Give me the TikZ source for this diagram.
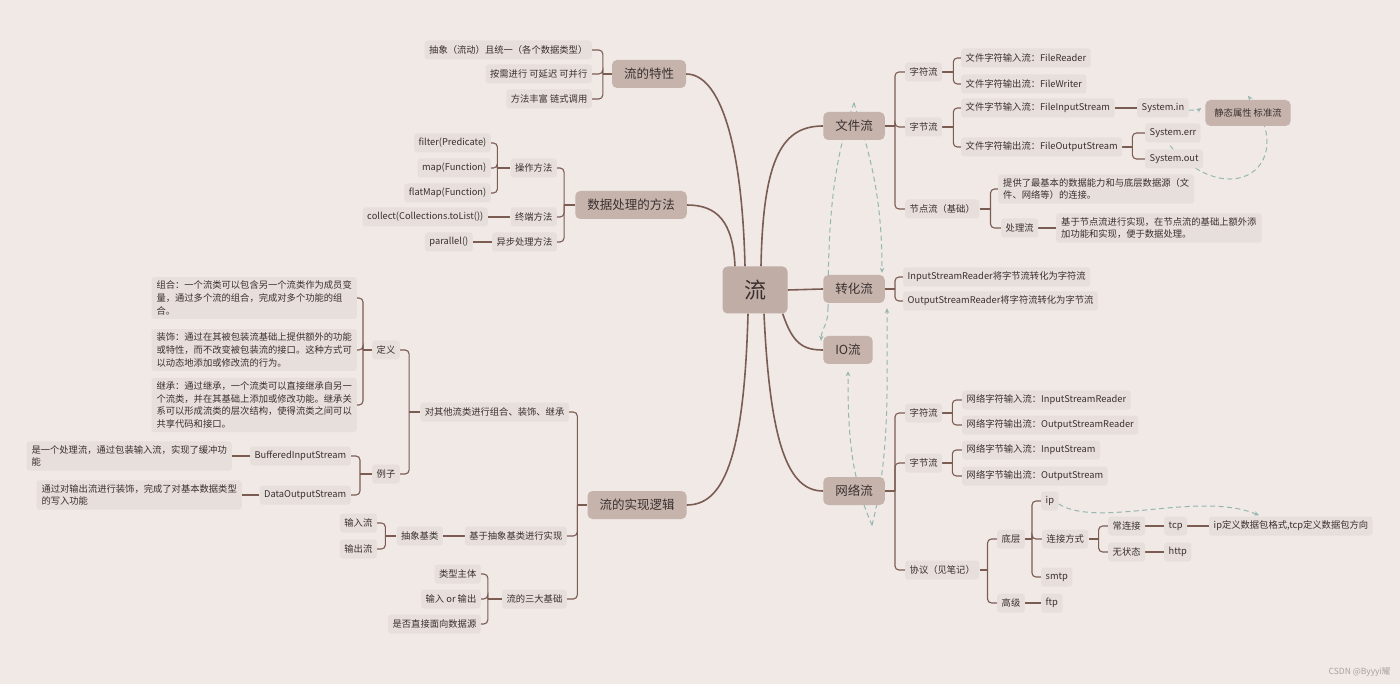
\documentclass[tikz,border=0pt]{standalone}
\usepackage{fontspec}
\setmainfont{Noto Sans CJK SC}
\usetikzlibrary{arrows.meta}
\definecolor{bgc}{RGB}{240,233,230}
\definecolor{nfill}{RGB}{231,223,219}
\definecolor{mfill}{RGB}{197,179,172}
\definecolor{cfill}{RGB}{192,173,166}
\definecolor{linec}{RGB}{122,92,83}
\definecolor{relc}{RGB}{150,182,176}
\definecolor{txtc}{RGB}{58,48,47}
\definecolor{wmc}{RGB}{170,162,160}
\pgfdeclarelayer{bg}
\pgfsetlayers{bg,main}
\newcommand\fsS{\fontsize{9.3}{12.6}\selectfont}
\newcommand\fsM{\fontsize{12.5}{15}\selectfont}
\newcommand\fsL{\fontsize{22}{26}\selectfont}
\newcommand\bracketL[3]{%
  \draw[brl] (#1.west) -- ++(-#2,0);
  \foreach \ch in {#3}{\draw[brl,rounded corners=4pt] ([xshift=-#2pt]#1.west) |- (\ch.east);}}
\newcommand\bracketR[3]{%
  \draw[brl] (#1.east) -- ++(#2,0);
  \foreach \ch in {#3}{\draw[brl,rounded corners=4pt] ([xshift=#2pt]#1.east) |- (\ch.west);}}
\begin{document}
\begin{tikzpicture}[x=1pt,y=-1pt,
 sn/.style={fill=nfill, rounded corners=3pt, inner xsep=4.5pt, inner ysep=2pt, minimum height=19pt, font=\fsS, text=txtc},
 pn/.style={sn, align=left, inner xsep=5pt, inner ysep=4pt},
 mn/.style={fill=mfill, rounded corners=5pt, inner xsep=12pt, minimum height=28pt, font=\fsM, text=txtc},
 cn/.style={fill=cfill, rounded corners=5pt, minimum width=65pt, minimum height=47pt, font=\fsL, text=txtc},
 brl/.style={draw=linec, line width=1.1pt},
 trunk/.style={draw=linec, line width=1.6pt},
 rel/.style={draw=relc, line width=1pt, dash pattern=on 5pt off 3.5pt, -{Stealth[length=5pt,width=4.5pt]}},
 reln/.style={draw=relc, line width=1pt, dash pattern=on 5pt off 3.5pt},
]
\begin{pgfonlayer}{bg}
\fill[bgc] (0,0) rectangle (1400,684);
\end{pgfonlayer}
\useasboundingbox (0,0) rectangle (1400,684);

% central
\node[cn] (c) at (755,290) {流};

% ---------- left: 流的特性
\node[mn] (m1) at (649,74) {流的特性};
\node[sn,anchor=east] (a1) at (592,50) {抽象（流动）且统一（各个数据类型）};
\node[sn,anchor=east] (a2) at (592,74) {按需进行 可延迟 可并行};
\node[sn,anchor=east] (a3) at (592,99) {方法丰富 链式调用};

% ---------- 数据处理的方法
\node[mn] (m2) at (631,205) {数据处理的方法};
\node[sn,anchor=east] (b1) at (557,168) {操作方法};
\node[sn,anchor=east] (b2) at (557,217) {终端方法};
\node[sn,anchor=east] (b3) at (557,242) {异步处理方法};
\node[sn,anchor=east] (b11) at (491,143) {filter(Predicate)};
\node[sn,anchor=east] (b12) at (491,168) {map(Function)};
\node[sn,anchor=east] (b13) at (491,193) {flatMap(Function)};
\node[sn,anchor=east] (b21) at (488,217) {collect(Collections.toList())};
\node[sn,anchor=east] (b31) at (473,242) {parallel()};

% ---------- 流的实现逻辑
\node[mn] (m3) at (637,505) {流的实现逻辑};
\node[sn,anchor=east] (d1) at (569,412) {对其他流类进行组合、装饰、继承};
\node[sn,anchor=east] (d2) at (567,536) {基于抽象基类进行实现};
\node[sn,anchor=east] (d3) at (567,599) {流的三大基础};
\node[sn,anchor=east] (e1) at (400,350) {定义};
\node[sn,anchor=east] (e2) at (400,474) {例子};
\node[pn,anchor=east] (p1) at (357,298) {组合：一个流类可以包含另一个流类作为成员变\\量，通过多个流的组合，完成对多个功能的组\\合。};
\node[pn,anchor=east] (p2) at (357,350) {装饰：通过在其被包装流基础上提供额外的功能\\或特性，而不改变被包装流的接口。这种方式可\\以动态地添加或修改流的行为。};
\node[pn,anchor=east] (p3) at (357,405) {继承：通过继承，一个流类可以直接继承自另一\\个流类，并在其基础上添加或修改功能。继承关\\系可以形成流类的层次结构，使得流类之间可以\\共享代码和接口。};
\node[sn,anchor=east] (bis) at (351,456) {BufferedInputStream};
\node[sn,anchor=east] (dos) at (351,495) {DataOutputStream};
\node[pn,anchor=east] (p4) at (232,456) {是一个处理流，通过包装输入流，实现了缓冲功\\能};
\node[pn,anchor=east] (p5) at (242,495) {通过对输出流进行装饰，完成了对基本数据类型\\的写入功能};
\node[sn,anchor=east] (ab) at (443,536) {抽象基类};
\node[sn,anchor=east] (in) at (377,523) {输入流};
\node[sn,anchor=east] (out) at (377,549) {输出流};
\node[sn,anchor=east] (t1) at (481,574) {类型主体};
\node[sn,anchor=east] (t2) at (481,599) {输入 or 输出};
\node[sn,anchor=east] (t3) at (481,624) {是否直接面向数据源};

% ---------- right: 文件流
\node[mn] (m4) at (854,126) {文件流};
\node[sn,anchor=west] (f1) at (905,72) {字符流};
\node[sn,anchor=west] (f2) at (905,127) {字节流};
\node[sn,anchor=west] (f3) at (905,209) {节点流（基础）};
\node[sn,anchor=west] (fr) at (961,58) {文件字符输入流：FileReader};
\node[sn,anchor=west] (fw) at (961,84) {文件字符输出流：FileWriter};
\node[sn,anchor=west] (fi) at (961,108) {文件字节输入流：FileInputStream};
\node[sn,anchor=west] (fo) at (961,147) {文件字符输出流：FileOutputStream};
\node[sn,anchor=west] (sin) at (1137,108) {System.in};
\node[sn,anchor=west] (serr) at (1145,133) {System.err};
\node[sn,anchor=west] (sout) at (1145,159) {System.out};
\node[mn,font=\fsS,minimum height=26pt,inner xsep=9pt] (st) at (1248,113) {静态属性 标准流};
\node[pn,anchor=west] (nd1) at (998,189) {提供了最基本的数据能力和与底层数据源（文\\件、网络等）的连接。};
\node[sn,anchor=west] (cl) at (1001,228) {处理流};
\node[pn,anchor=west] (nd2) at (1056,228) {基于节点流进行实现，在节点流的基础上额外添\\加功能和实现，便于数据处理。};

% ---------- 转化流 / IO流
\node[mn] (m5) at (854,289) {转化流};
\node[sn,anchor=west] (z1) at (903,277) {InputStreamReader将字节流转化为字符流};
\node[sn,anchor=west] (z2) at (903,301) {OutputStreamReader将字符流转化为字节流};
\node[mn] (m6) at (848,350) {IO流};

% ---------- 网络流
\node[mn] (m7) at (854,491) {网络流};
\node[sn,anchor=west] (g1) at (905,413) {字符流};
\node[sn,anchor=west] (g2) at (905,463) {字节流};
\node[sn,anchor=west] (g3) at (905,570) {协议（见笔记）};
\node[sn,anchor=west] (g11) at (962,400) {网络字符输入流：InputStreamReader};
\node[sn,anchor=west] (g12) at (962,425) {网络字符输出流：OutputStreamReader};
\node[sn,anchor=west] (g21) at (962,450) {网络字节输入流：InputStream};
\node[sn,anchor=west] (g22) at (962,476) {网络字节输出流：OutputStream};
\node[sn,anchor=west] (dc) at (997,539) {底层};
\node[sn,anchor=west] (gj) at (997,603) {高级};
\node[sn,anchor=west] (ip) at (1041,501) {ip};
\node[sn,anchor=west] (lj) at (1042,539) {连接方式};
\node[sn,anchor=west] (smtp) at (1041,577) {smtp};
\node[sn,anchor=west] (clj) at (1108,526) {常连接};
\node[sn,anchor=west] (wzt) at (1108,552) {无状态};
\node[sn,anchor=west] (tcp) at (1164,526) {tcp};
\node[sn,anchor=west] (http) at (1164,552) {http};
\node[sn,anchor=west] (ipd) at (1209,526) {ip定义数据包格式,tcp定义数据包方向};
\node[sn,anchor=west] (ftp) at (1041,603) {ftp};

\node[anchor=east,font=\fontsize{8.5}{10}\selectfont,text=wmc] (wm) at (1394,672) {CSDN @Byyyi耀};

\begin{pgfonlayer}{bg}
% relationships (dashed)
\draw[reln] ([yshift=9pt]m4.north) .. controls +(-22,60) and +(0,-80) .. ([xshift=-26pt,yshift=-4pt]m5.south);
\draw[rel] ([xshift=-26pt,yshift=-4pt]m5.south) .. controls +(0,20) and +(1,-15) .. ([xshift=-27pt,yshift=-5pt]m6.north);
\draw[rel] ([yshift=9pt]m4.north) .. controls +(15,50) and +(0,-80) .. ([xshift=28pt,yshift=2pt]m5.north);
\draw[rel] ([xshift=18pt,yshift=-20pt]m7.south) .. controls +(-22,-50) and +(0,60) .. ([yshift=-7pt]m6.south);
\draw[rel] ([xshift=18pt,yshift=-20pt]m7.south) .. controls +(18,-70) and +(0,80) .. ([xshift=33pt,yshift=-5pt]m5.south);
\draw[rel] ([yshift=-2pt]sin.east) .. controls +(5,0) and +(-4,3) .. ([xshift=-4pt,yshift=5pt]st.west);
\draw[rel] ([xshift=25pt,yshift=-3pt]serr.south west) .. controls (1230,215) and (1300,165) .. ([yshift=4pt]st.north);
\draw[rel] ([yshift=-3pt]ip.east) .. controls +(40,25) and +(-60,-25) .. ([xshift=50pt,yshift=1pt]ipd.north west);

% trunks
\draw[trunk] ([xshift=-10pt]c.north) .. controls +(-3,-126) and +(33,0) .. (m1.east);
\draw[trunk] ([xshift=-20pt]c.north) .. controls +(-2,-45) and +(30,0) .. (m2.east);
\draw[trunk] ([xshift=6pt]c.north) .. controls +(2,-110) and +(-40,0) .. (m4.west);
\draw[trunk] (c.east) -- (m5.west);
\draw[trunk] ([xshift=-5pt]c.south east) .. controls +(10,30) and +(-20,0) .. (m6.west);
\draw[trunk] ([xshift=-7pt]c.south) .. controls +(-4,150) and +(35,0) .. (m3.east);
\draw[trunk] ([xshift=9pt]c.south) .. controls +(6,130) and +(-35,0) .. (m7.west);

% brackets left
\bracketL{m1}{9}{a1,a2,a3}
\bracketL{m2}{11}{b1,b2,b3}
\bracketL{b1}{13}{b11,b12,b13}
\draw[brl] (b2.west) -- (b21.east);
\draw[brl] (b3.west) -- (b31.east);
\bracketL{m3}{10}{d1,d2,d3}
\bracketL{d1}{11}{e1,e2}
\bracketL{e1}{9}{p1,p2,p3}
\bracketL{e2}{12}{bis,dos}
\draw[brl] (bis.west) -- (p4.east);
\draw[brl] (dos.west) -- (p5.east);
\draw[brl] (d2.west) -- (ab.east);
\bracketL{ab}{11}{in,out}
\bracketL{d3}{14}{t1,t2,t3}

% brackets right
\bracketR{m4}{10}{f1,f2,f3}
\bracketR{f1}{11}{fr,fw}
\bracketR{f2}{11}{fi,fo}
\draw[brl] (fi.east) -- (sin.west);
\bracketR{fo}{10}{serr,sout}
\bracketR{f3}{11}{nd1,cl}
\draw[brl] (cl.east) -- (nd2.west);
\bracketR{m5}{10}{z1,z2}
\bracketR{m7}{10}{g1,g2,g3}
\bracketR{g1}{10}{g11,g12}
\bracketR{g2}{10}{g21,g22}
\bracketR{g3}{8}{dc,gj}
\bracketR{dc}{7}{ip,lj,smtp}
\bracketR{lj}{10}{clj,wzt}
\draw[brl] (clj.east) -- (tcp.west);
\draw[brl] (tcp.east) -- (ipd.west);
\draw[brl] (wzt.east) -- (http.west);
\draw[brl] (gj.east) -- (ftp.west);
\end{pgfonlayer}
\end{tikzpicture}
\end{document}
